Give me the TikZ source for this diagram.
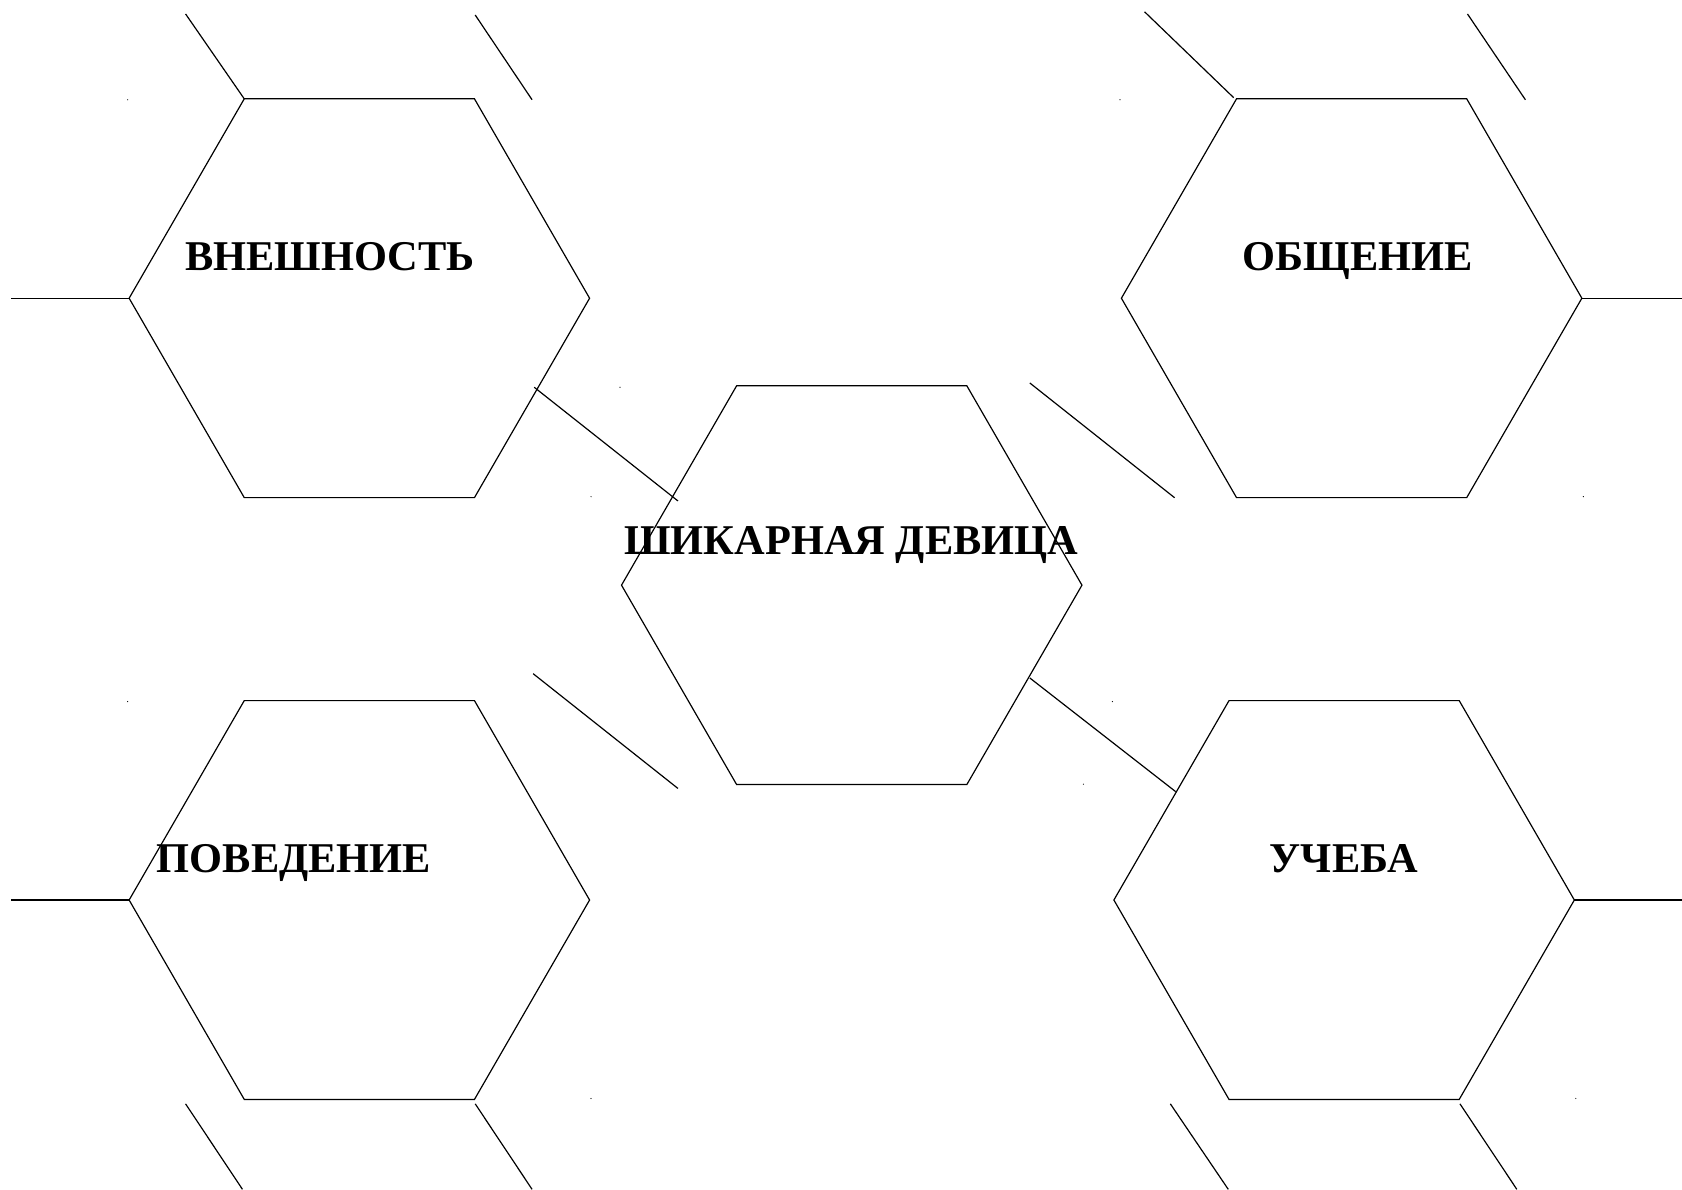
\documentclass[tikz,border=0pt]{standalone}
\usepackage{fontspec}
\setmainfont{Liberation Serif}
\usetikzlibrary{shapes.geometric}
\begin{document}
\begin{tikzpicture}[x=0.18941mm,y=-0.18941mm,
  hexa/.style={draw, regular polygon, regular polygon sides=6, minimum size=81.3mm, inner sep=0pt, outer sep=0pt, line width=0.6pt},
  lbl/.style={font=\fontsize{21.3}{25}\selectfont\bfseries, anchor=base, inner sep=0pt},
  ln/.style={line width=0.6pt},
  speck/.style={fill=black}]
\useasboundingbox (0,0) rectangle (1568,1108.7);
% hexagons
\node[hexa] (A) at (335,278) {};
\node[hexa] (B) at (1260,278) {};
\node[hexa] (C) at (794,545.5) {};
\node[hexa] (D) at (335,839) {};
\node[hexa] (E) at (1253,839) {};
% labels
\node[lbl] (tA) at (307.5,252) {ВНЕШНОСТЬ};
\node[lbl] (tB) at (1265.5,252) {ОБЩЕНИЕ};
\node[lbl] (tC) at (793.5,517) {ШИКАРНАЯ ДЕВИЦА};
\node[lbl] (tD) at (274,813) {ПОВЕДЕНИЕ};
\node[lbl] (tE) at (1253,813) {УЧЕБА};
% free ends
\coordinate (a1) at (173,13);
\coordinate (a2) at (443,14);
\coordinate (a3) at (496,93);
\coordinate (a4) at (10,278);
\coordinate (a5) at (498,361);
\coordinate (a6) at (632,467);
\coordinate (b0) at (1150,91);
\coordinate (b1) at (1067,11);
\coordinate (b2) at (1368,13);
\coordinate (b3) at (1422,93);
\coordinate (b4) at (1568,278);
\coordinate (b5) at (960,357);
\coordinate (b6) at (1095,464);
\coordinate (c1) at (960,632);
\coordinate (c2) at (1096,738);
\coordinate (c3) at (497,628);
\coordinate (c4) at (632,735);
\coordinate (d1) at (10,839);
\coordinate (d2) at (173,1029);
\coordinate (d3) at (226,1108.7);
\coordinate (d4) at (443,1029);
\coordinate (d5) at (496,1108.7);
\coordinate (e1) at (1568,839);
\coordinate (e2) at (1091,1029);
\coordinate (e3) at (1145,1108.7);
\coordinate (e4) at (1361,1029);
\coordinate (e5) at (1414,1108.7);
% connectors
\draw[ln] (A.corner 2) -- (a1);
\draw[ln] (a2) -- (a3);
\draw[ln] (A.corner 3) -- (a4);
\draw[ln] (a5) -- (a6);
\draw[ln] (b0) -- (b1);
\draw[ln] (b2) -- (b3);
\draw[ln] (B.corner 6) -- (b4);
\draw[ln] (b5) -- (b6);
\draw[ln] (c1) -- (c2);
\draw[ln] (c3) -- (c4);
\draw[ln] (D.corner 3) -- (d1);
\draw[ln] (d2) -- (d3);
\draw[ln] (d4) -- (d5);
\draw[ln] (E.corner 6) -- (e1);
\draw[ln] (e2) -- (e3);
\draw[ln] (e4) -- (e5);
% specks
\foreach \p in {(119,93),(578,361),(551,463),(1044,93),(1476,463),(119,654),(551,1024),(1037,654),(1010,731),(1469,1024)}
  \fill[speck] \p circle (0.3pt);
\end{tikzpicture}
\end{document}
